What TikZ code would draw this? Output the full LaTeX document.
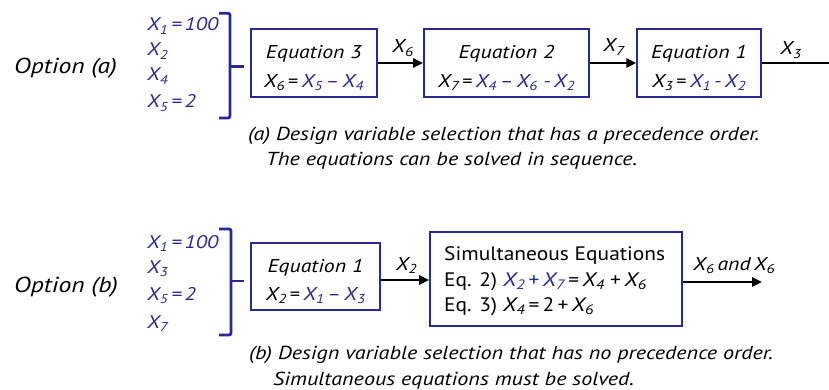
\documentclass[tikz,border=0pt]{standalone}
\usepackage{fontspec}
\setmainfont{PT Sans}[FakeStretch=1.1]
\newfontfamily\itf{PT Sans}[FakeStretch=1.18]
\usetikzlibrary{arrows.meta}
\definecolor{navy}{RGB}{40,40,150}
\newcommand\iv[1]{{\itf\itshape #1}}
\newcommand\xv[1]{\iv{X}\textsubscript{\iv{#1}}}
\begin{document}
\begin{tikzpicture}[x=1pt,y=-1pt,
  box/.style={draw=navy,line width=1.8pt,inner sep=0pt},
  conn/.style={line width=2.6pt,-{Triangle[length=10pt,width=9pt]}},
  plain/.style={line width=2.6pt},
  brk/.style={draw=navy,line width=2.8pt,rounded corners=2pt},
  txt/.style={inner sep=0pt,anchor=base,font=\fontsize{18.5}{22}\selectfont},
  txtl/.style={inner sep=0pt,anchor=base west,font=\fontsize{18.5}{22}\selectfont},
  simt/.style={inner sep=0pt,anchor=base west,font=\fontsize{19.5}{23}\selectfont},
  var/.style={inner sep=0pt,anchor=base west,text=navy,font=\fontsize{18.3}{22}\selectfont\itf\itshape},
  opt/.style={inner sep=0pt,anchor=base west,font=\fontsize{21.7}{26}\selectfont\itf\itshape},
  captxt/.style={inner sep=0pt,anchor=base west,font=\fontsize{18.8}{22}\selectfont\itf\itshape}]
\useasboundingbox (0,0) rectangle (829,390);

% ---------- Option (a)
\node[opt] (opta) at (14,73.3) {Option (a)};
\node[var] (va1) at (147,31) {\xv{1}\,=\,100};
\node[var] (va2) at (147,56) {\xv{2}};
\node[var] (va4) at (147,81) {\xv{4}};
\node[var] (va5) at (147,108) {\xv{5}\,=\,2};
\draw[brk] (219,13.3) -- (230,13.3) -- (230,118) -- (219,118);
\draw[brk] (230,66.7) -- (244,66.7);

\node[box,minimum width=125.7pt,minimum height=67.4pt] (e3) at (313.8,63) {};
\node[txt] (e3t) at (313.8,59) {\iv{Equation 3}};
\node[txt] (e3e) at (313.8,87.3) {\xv{6}\,=\,\textcolor{navy}{\xv{5}\,–\,\xv{4}}};

\node[box,minimum width=165pt,minimum height=67.4pt] (e2) at (506.5,63) {};
\node[txt] (e2t) at (506.5,59) {\iv{Equation 2}};
\node[txt] (e2e) at (506.5,87.3) {\xv{7}\,=\,\textcolor{navy}{\xv{4}\,–\,\xv{6} \iv{-}\,\xv{2}}};

\node[box,minimum width=123.7pt,minimum height=67.4pt] (e1) at (699,63) {};
\node[txt] (e1t) at (699,59) {\iv{Equation 1}};
\node[txt] (e1e) at (699,87.3) {\xv{3}\,=\,\textcolor{navy}{\xv{1}\,\iv{-}\,\xv{2}}};

\draw[conn] (e3) -- (e2);
\draw[conn] (e2) -- (e1);
\coordinate (enda) at (829,63);
\draw[plain] (e1.east) -- (enda);
\node[txtl] (l6) at (392,53) {\xv{6}};
\node[txtl] (l7) at (603,52) {\xv{7}};
\node[txtl] (l3) at (780,55) {\xv{3}};

\node[captxt] (capa1) at (248,140.5) {(a) Design variable selection that has a precedence order.};
\node[captxt] (capa2) at (266,165.5) {The equations can be solved in sequence.};

% ---------- Option (b)
\node[opt] (optb) at (14,292) {Option (b)};
\node[var] (vb1) at (147,248) {\xv{1}\,=\,100};
\node[var] (vb3) at (147,273) {\xv{3}};
\node[var] (vb5) at (147,300.5) {\xv{5}\,=\,2};
\node[var] (vb7) at (147,328) {\xv{7}};
\draw[brk] (219,229) -- (231,229) -- (231,335) -- (219,335);
\draw[brk] (231,281) -- (244,281);

\node[box,minimum width=129pt,minimum height=66.7pt] (b1) at (315.5,276.7) {};
\node[txt] (b1t) at (315.5,272.7) {\iv{Equation 1}};
\node[txt] (b1e) at (315.5,300) {\xv{2}\,=\,\textcolor{navy}{\xv{1}\,–\,\xv{3}}};

\node[box,minimum width=252.3pt,minimum height=94pt] (sim) at (556.2,278.7) {};
\node[simt] (st) at (444,260.7) {Simultaneous Equations};
\node[simt] (s2l) at (444,286) {Eq. 2)};
\node[simt] (s2e) at (502.7,286) {\textcolor{navy}{\xv{2}\,+\,\xv{7}}\,=\,\xv{4}\;+\,\xv{6}};
\node[simt] (s3l) at (444,311) {Eq. 3)};
\node[simt] (s3e) at (502.7,311) {\xv{4}\,=\,2\,+\,\xv{6}};

\coordinate (yb) at (400,280);
\draw[conn] (b1.east |- yb) -- (sim.west |- yb);
\coordinate (endb) at (762,282);
\draw[conn] (sim.east |- endb) -- (endb);
\node[txtl] (l2) at (395.7,270) {\xv{2}};
\node[txtl] (l66) at (693,270) {\xv{6}\,\iv{and}\,\xv{6}};

\node[captxt] (capb1) at (249,359) {(b) Design variable selection that has no precedence order.};
\node[captxt] (capb2) at (273,385) {Simultaneous equations must be solved.};
\end{tikzpicture}
\end{document}
